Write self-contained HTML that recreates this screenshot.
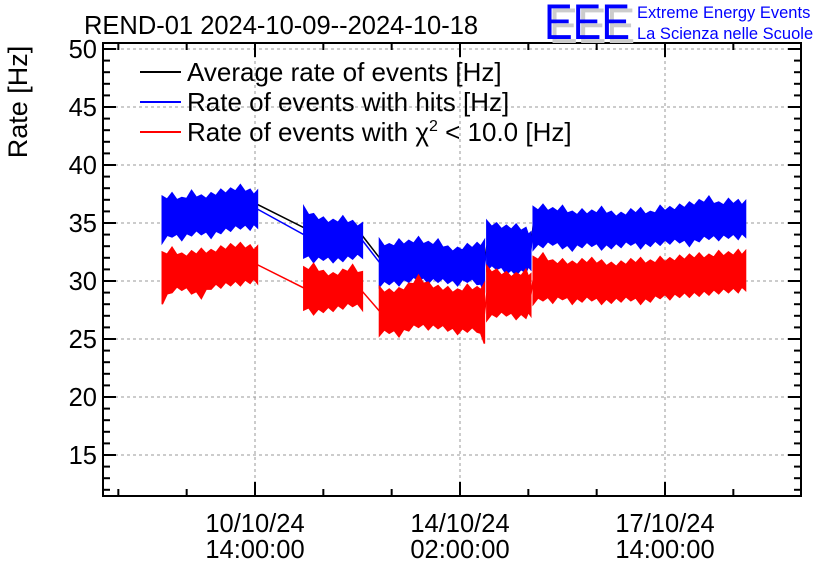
<!DOCTYPE html>
<html><head><meta charset="utf-8"><style>
body{margin:0;background:#fff;}
svg text{font-family:"Liberation Sans",sans-serif;}
</style></head><body>
<svg id="chart" width="836" height="572" viewBox="0 0 836 572" xmlns="http://www.w3.org/2000/svg">
<rect width="836" height="572" fill="#fff"/>
<g id="grid"></g>
<g id="series"></g>
<g id="axes"></g>
<text x="84" y="34" font-size="25.5">REND-01 2024-10-09--2024-10-18</text>
<g>
<text x="549" y="43" font-size="50" fill="#ccc" textLength="86" lengthAdjust="spacingAndGlyphs">EEE</text>
<text x="544" y="39" font-size="50" fill="#0000ff" textLength="86" lengthAdjust="spacingAndGlyphs">EEE</text>
<text x="637" y="18" font-size="16.5" fill="#0000ff">Extreme Energy Events</text>
<text x="637" y="39" font-size="16.5" fill="#0000ff">La Scienza nelle Scuole</text>
</g>
<text transform="translate(27,102) rotate(-90)" text-anchor="middle" font-size="27">Rate [Hz]</text>
<g>
<g><line x1="140" y1="72" x2="181" y2="72" stroke="#000" stroke-width="2"/><text x="187" y="81" font-size="26">Average rate of events [Hz]</text></g>
<g><line x1="140" y1="102" x2="181" y2="102" stroke="#00f" stroke-width="2"/><text x="187" y="111" font-size="26">Rate of events with hits [Hz]</text></g>
<g><line x1="140" y1="132" x2="181" y2="132" stroke="#f00" stroke-width="2"/><text x="187" y="141" font-size="26">Rate of events with χ<tspan font-size="16" dy="-10">2</tspan><tspan dy="10"> &lt; 10.0 [Hz]</tspan></text></g>
</g>
</svg>
<script>
// hours relative to 10/10/24 14:00
const segTimes=[
[-38,-34,-30,-26,-22,-18,-14,-10,-6,-2,1],
[20,24,28,32,36,40,44],
[51,55,59,63,67,71,75,79,83,87,91,94],
[95,99,103,107,111,113],
[114,118,122,126,130,134,138,142,146,150,154,158,162,166,170,174,178,182,186,190,194,198,201]];
const blueHi=[
[37.3,37.6,37.2,37.8,37.4,37.6,37.9,38.0,38.3,37.9,37.8],
[36.4,35.8,35.5,35.3,35.6,35.2,35.0],
[33.6,33.2,33.6,33.5,33.8,33.4,33.6,33.0,32.9,33.2,33.3,33.5],
[35.2,35.0,34.8,34.9,34.6,34.2],
[36.4,36.6,36.3,36.5,36.0,36.2,36.1,36.4,36.0,35.9,36.2,36.3,36.0,36.5,36.4,36.6,36.8,37.0,37.3,36.8,37.1,37.0,36.9]];
const blueLo=[
[33.3,33.8,33.5,33.9,34.0,33.7,34.1,34.3,34.5,34.4,34.6],
[32.0,31.6,31.8,31.6,31.7,31.9,32.0],
[29.5,29.7,29.6,29.9,30.0,29.8,29.9,29.8,29.6,29.9,29.7,29.0],
[30.9,31.0,30.6,30.5,30.7,31.0],
[32.7,32.9,33.1,32.8,32.6,32.9,33.0,32.7,32.8,32.9,33.1,32.8,33.0,33.1,33.2,33.3,33.0,33.4,33.6,33.5,33.7,33.6,33.8]];
const redHi=[
[32.5,32.9,32.4,32.6,32.8,32.7,33.0,33.2,33.3,33.1,33.0],
[31.2,31.5,30.9,30.7,31.0,31.4,30.8],
[29.5,29.3,29.4,29.8,30.5,29.9,29.6,29.5,29.3,29.7,29.5,29.8],
[31.3,31.0,30.8,30.7,31.0,30.6],
[32.1,32.4,31.8,31.9,31.7,31.9,32.0,31.8,31.6,31.7,31.9,32.0,31.8,32.1,32.0,32.2,32.3,32.4,32.3,32.6,32.5,32.7,32.6]];
const redLo=[
[28.0,29.0,29.2,28.9,28.5,29.3,29.4,29.6,29.6,29.8,29.8],
[27.5,27.1,27.3,27.4,27.6,27.8,27.5],
[25.3,25.5,25.2,25.7,26.0,25.8,25.9,25.7,25.4,25.6,25.6,24.6],
[26.6,26.9,27.0,26.7,26.8,27.0],
[28.0,28.3,28.1,28.4,28.0,28.2,28.3,28.0,28.1,28.2,28.3,28.0,28.2,28.5,28.4,28.6,28.6,28.7,28.8,28.9,29.0,29.0,29.2]];
const avgT=[-38,1,20,44,51,94,95,113,114,201];
const avgV=[35.6,36.6,34.6,33.9,32.0,31.8,33.0,32.8,34.8,35.6];
const blueLinkV=[35.5,36.2,34.0,33.5,31.6,31.3,32.8,32.6,34.6,35.4];
const redLinkV=[30.6,31.4,29.4,29.1,27.4,27.2,28.9,28.8,30.1,30.9];
const yTicks=[15,20,25,30,35,40,45,50];
const xTickT=[0,84,168];
const xTickL1=["10/10/24","14/10/24","17/10/24"];
const xTickL2=["14:00:00","02:00:00","14:00:00"];

const L=103,R=801,T=43,B=496;
const X=t=>255+t*(205/84);
const Y=v=>455-(v-15)*11.6;
const NS="http://www.w3.org/2000/svg";
function mk(tag,attrs,parent){const e=document.createElementNS(NS,tag);for(const k in attrs)e.setAttribute(k,attrs[k]);parent.appendChild(e);return e;}
const grid=document.getElementById('grid'),ser=document.getElementById('series'),ax=document.getElementById('axes');

yTicks.forEach(v=>{const l=mk('line',{x1:L,x2:R,y1:Y(v),y2:Y(v),stroke:'#999','stroke-dasharray':'3,3','stroke-width':1},grid);

});
xTickT.forEach(t=>{const l=mk('line',{x1:X(t),x2:X(t),y1:T,y2:B,stroke:'#999','stroke-dasharray':'3,3','stroke-width':1},grid);

});

function poly(pts,color,name){const e=mk('polyline',{points:pts.map(p=>p.join(',')).join(' '),fill:'none',stroke:color,'stroke-width':1.5},ser);

}
poly(avgT.map((t,i)=>[X(t),Y(avgV[i])]),'#000','average-line');
poly(avgT.map((t,i)=>[X(t),Y(blueLinkV[i])]),'#00f','hits-link-line');
poly(avgT.map((t,i)=>[X(t),Y(redLinkV[i])]),'#f00','chi2-link-line');
function band(hi,lo,color,name){
 segTimes.forEach((ts,s)=>{
  const pts=[];
  ts.forEach((t,i)=>{pts.push([X(t),Y(hi[s][i])]);if(i<ts.length-1){const tm=(t+ts[i+1])/2;pts.push([X(tm),Y((hi[s][i]+hi[s][i+1])/2-0.4)]);}});
  for(let i=ts.length-1;i>=0;i--){pts.push([X(ts[i]),Y(lo[s][i])]);if(i>0){const tm=(ts[i]+ts[i-1])/2;pts.push([X(tm),Y((lo[s][i]+lo[s][i-1])/2+0.4)]);}}
  const e=mk('polygon',{points:pts.map(p=>p.join(',')).join(' '),fill:color,stroke:color,'stroke-width':1.5},ser);
  
  
 });
}
band(blueHi,blueLo,'#00f','hits-band');
band(redHi,redLo,'#f00','chi2-band');

const fr=mk('rect',{x:L,y:T,width:R-L,height:B-T,fill:'none',stroke:'#000','stroke-width':2},ax);


for(let v=12;v<=50;v++){const len=(v%5===0)?13:7;
 mk('line',{x1:L,x2:L+len,y1:Y(v),y2:Y(v),stroke:'#000','stroke-width':2},ax);
 mk('line',{x1:R,x2:R-len,y1:Y(v),y2:Y(v),stroke:'#000','stroke-width':2},ax);}
yTicks.forEach(v=>{const t=mk('text',{x:97,y:Y(v)+9,'text-anchor':'end','font-size':25.5},ax);t.textContent=v;

});
for(let t=-56;t<=230;t+=28){const x=X(t);if(x<L||x>R)continue;const len=(t%84===0)?14:7;
 mk('line',{x1:x,x2:x,y1:B,y2:B-len,stroke:'#000','stroke-width':2},ax);
 mk('line',{x1:x,x2:x,y1:T,y2:T+len,stroke:'#000','stroke-width':2},ax);}
xTickT.forEach((t,i)=>{const a=mk('text',{x:X(t),y:532,'text-anchor':'middle','font-size':25.5},ax);a.textContent=xTickL1[i];


const b=mk('text',{x:X(t),y:558,'text-anchor':'middle','font-size':25.5},ax);b.textContent=xTickL2[i];

});
</script>
</body></html>
